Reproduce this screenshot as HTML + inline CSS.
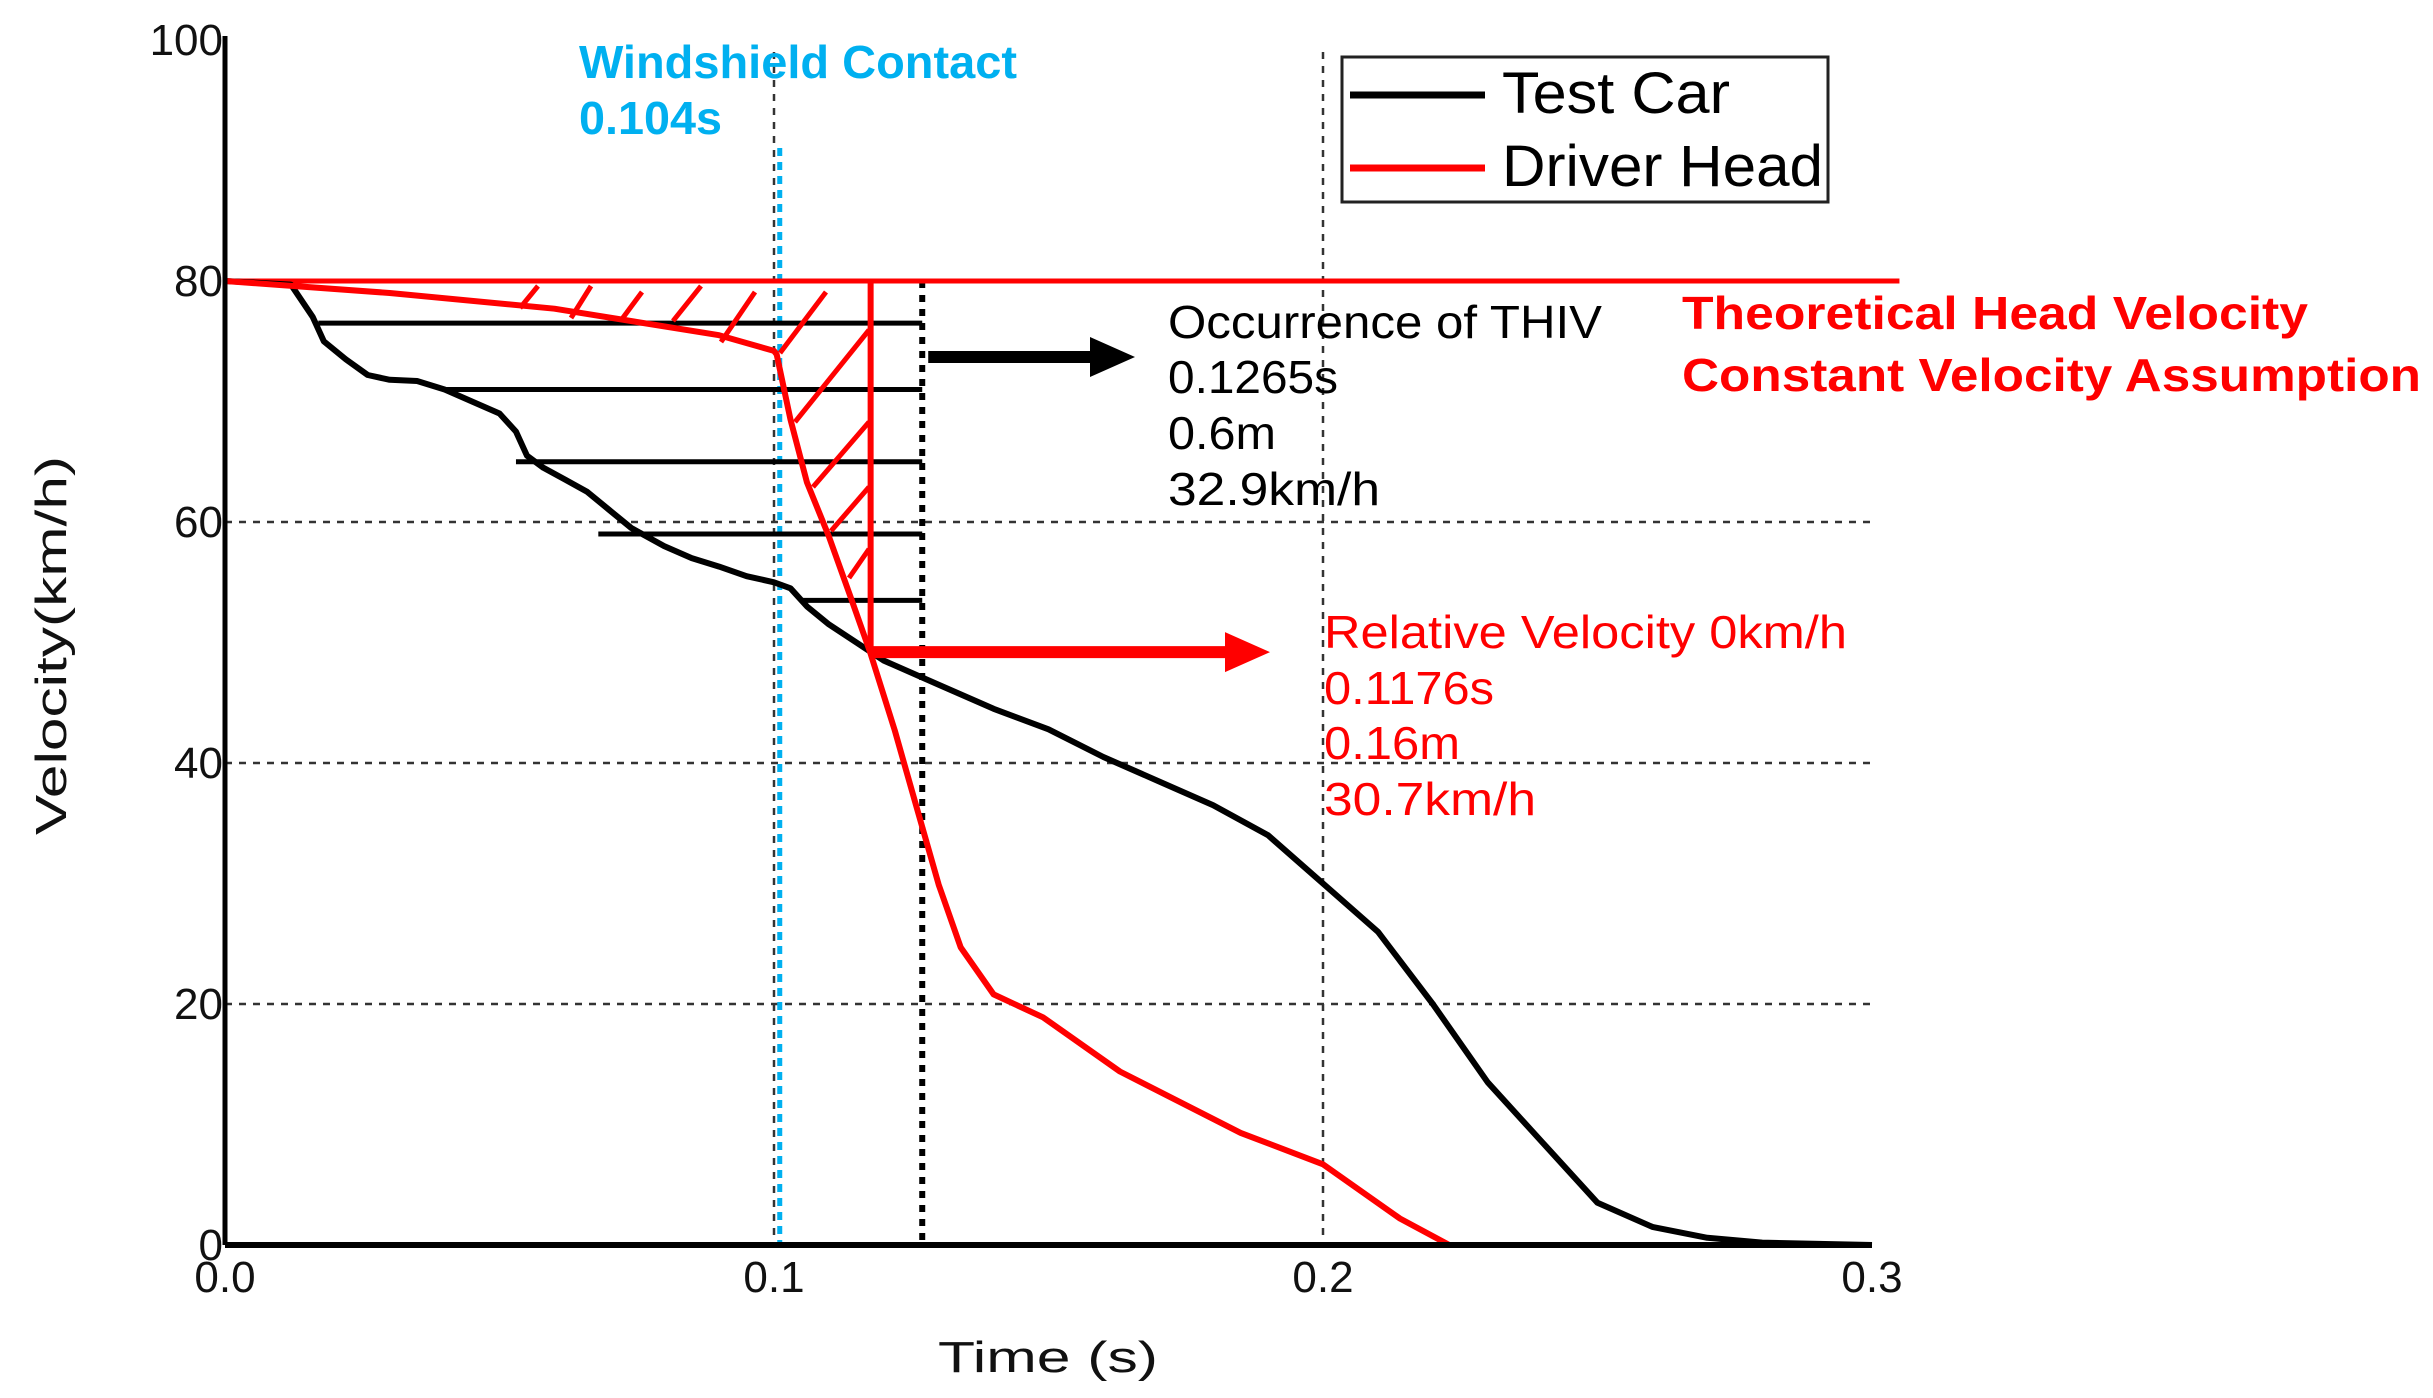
<!DOCTYPE html>
<html><head><meta charset="utf-8"><style>
html,body{margin:0;padding:0;background:#fff;}
svg{display:block;}
.tk{font-family:"Liberation Sans Narrow","Liberation Sans",sans-serif;font-size:44px;fill:#111;}
.ann{font-family:"Liberation Sans",sans-serif;font-size:46px;}
</style></head><body>
<svg id="chart" width="2433" height="1398" viewBox="0 0 2433 1398" xmlns="http://www.w3.org/2000/svg">
<g id="grid"></g>
<g id="marks"></g>
<g id="axes"></g>
<g>
<rect x="1342" y="57" width="486" height="145" fill="#fff" stroke="#222" stroke-width="3"/>
<line x1="1350" y1="95" x2="1485" y2="95" stroke="#000" stroke-width="7"/>
<text x="1502" y="113" font-family="Liberation Sans, sans-serif" font-size="58" fill="#000" textLength="228" lengthAdjust="spacingAndGlyphs">Test Car</text>
<line x1="1350" y1="168" x2="1485" y2="168" stroke="#f00" stroke-width="7"/>
<text x="1502" y="186" font-family="Liberation Sans, sans-serif" font-size="58" fill="#000" textLength="321" lengthAdjust="spacingAndGlyphs">Driver Head</text>
</g>
<g>
<text class="ann" x="579" y="78" fill="#00b0f0" font-weight="bold" textLength="438" lengthAdjust="spacingAndGlyphs">Windshield Contact</text>
<text class="ann" x="579" y="134" fill="#00b0f0" font-weight="bold" textLength="143" lengthAdjust="spacingAndGlyphs">0.104s</text>
<text class="ann" x="1168" y="338" fill="#000" textLength="434" lengthAdjust="spacingAndGlyphs">Occurrence of THIV</text>
<text class="ann" x="1168" y="393" fill="#000" textLength="170" lengthAdjust="spacingAndGlyphs">0.1265s</text>
<text class="ann" x="1168" y="449" fill="#000" textLength="108" lengthAdjust="spacingAndGlyphs">0.6m</text>
<text class="ann" x="1168" y="505" fill="#000" textLength="212" lengthAdjust="spacingAndGlyphs">32.9km/h</text>
<text class="ann" x="1682" y="329" fill="#f00" font-weight="bold" font-size="50" textLength="626" lengthAdjust="spacingAndGlyphs">Theoretical Head Velocity</text>
<text class="ann" x="1682" y="391" fill="#f00" font-weight="bold" font-size="50" textLength="739" lengthAdjust="spacingAndGlyphs">Constant Velocity Assumption</text>
<text class="ann" x="1324" y="648" fill="#f00" textLength="523" lengthAdjust="spacingAndGlyphs">Relative Velocity 0km/h</text>
<text class="ann" x="1324" y="704" fill="#f00" textLength="170" lengthAdjust="spacingAndGlyphs">0.1176s</text>
<text class="ann" x="1324" y="759" fill="#f00" textLength="136" lengthAdjust="spacingAndGlyphs">0.16m</text>
<text class="ann" x="1324" y="815" fill="#f00" textLength="212" lengthAdjust="spacingAndGlyphs">30.7km/h</text>
</g>
</svg>
<script>
const xTicks=[0,0.1,0.2,0.3];
const xTickLabels=["0.0","0.1","0.2","0.3"];
const yTicks=[0,20,40,60,80,100];
const yTickLabels=["0","20","40","60","80","100"];
const carT=[0,0.012,0.016,0.018,0.022,0.026,0.03,0.035,0.04,0.045,0.05,0.053,0.055,0.058,0.062,0.066,0.07,0.074,0.08,0.085,0.09,0.095,0.1,0.103,0.106,0.11,0.115,0.12,0.13,0.14,0.15,0.16,0.17,0.18,0.19,0.2,0.21,0.22,0.23,0.24,0.25,0.26,0.27,0.28,0.3];
const carV=[80,79.7,77,75,73.5,72.2,71.8,71.7,71,70,69,67.5,65.5,64.5,63.5,62.5,61,59.5,58,57,56.3,55.5,55,54.5,53,51.5,50,48.5,46.5,44.5,42.8,40.5,38.5,36.5,34,30,26,20,13.5,8.5,3.5,1.5,0.6,0.2,0];
const headT=[0,0.03,0.06,0.09,0.1,0.1005,0.103,0.106,0.11,0.114,0.1175,0.122,0.126,0.13,0.134,0.14,0.149,0.163,0.185,0.2,0.214,0.223];
const headV=[80,79,77.7,75.5,74.2,73.9,68.5,63.3,58.8,53.7,49.2,42.7,36.3,29.9,24.7,20.8,18.9,14.4,9.3,6.7,2.2,0];
const theoV=80, theoEndT=0.305;
const windshieldT=0.1005, relT=0.1176, relV=49.2, thivT=0.127;
const hatchV=[76.5,71,65,59,53.5];
const hatchStartT=[0.017,0.04,0.053,0.068,0.105];

const X0=225,X1=1872,Y0=1245,Y1=40;
const sx=t=>X0+(X1-X0)*t/0.3;
const sy=v=>Y0+(Y1-Y0)*v/100;
const NS="http://www.w3.org/2000/svg";
function mk(parent,tag,attrs){const e=document.createElementNS(NS,tag);for(const k in attrs)e.setAttribute(k,attrs[k]);document.getElementById(parent).appendChild(e);return e;}

[20,40,60].forEach(v=>{const l=mk('grid','line',{x1:X0,x2:sx(0.3),y1:sy(v),y2:sy(v),stroke:'#333','stroke-width':2.5,'stroke-dasharray':'7 7'});

});
[0.1,0.2].forEach(t=>{const l=mk('grid','line',{x1:sx(t),x2:sx(t),y1:sy(99),y2:Y0,stroke:'#333','stroke-width':2.5,'stroke-dasharray':'7 7'});

});

let w=mk('marks','line',{x1:sx(windshieldT)+3,x2:sx(windshieldT)+3,y1:148,y2:Y0,stroke:'#00b0f0','stroke-width':5,'stroke-dasharray':'8 6'});


let th=mk('marks','line',{x1:sx(thivT),x2:sx(thivT),y1:sy(80),y2:Y0,stroke:'#000','stroke-width':6,'stroke-dasharray':'7 7'});



hatchV.forEach((v,i)=>{const l=mk('marks','line',{x1:sx(hatchStartT[i]),x2:sx(thivT),y1:sy(v),y2:sy(v),stroke:'#000','stroke-width':5});

});

const diag=[[520,308,538,286],[571,318,591,286],[622,319,642,292],[673,321,701,286],[721,342,755,292],[780,353,826,292],[795,422,869,330],[813,487,869,422],[831,531,869,487],[849,578,869,549]];
diag.forEach(d=>{const l=mk('marks','line',{x1:d[0],y1:d[1],x2:d[2],y2:d[3],stroke:'#f00','stroke-width':5});

});

let tl=mk('marks','line',{x1:X0,x2:sx(theoEndT),y1:sy(theoV),y2:sy(theoV),stroke:'#f00','stroke-width':5});


let rv=mk('marks','line',{x1:sx(relT),x2:sx(relT),y1:sy(theoV),y2:sy(relV),stroke:'#f00','stroke-width':6});



function path(T,V){return T.map((t,i)=>(i?'L':'M')+sx(t).toFixed(1)+' '+sy(V[i]).toFixed(1)).join(' ');}
let cp=mk('marks','path',{d:path(carT,carV),fill:'none',stroke:'#000','stroke-width':6,'stroke-linejoin':'round'});


let hp=mk('marks','path',{d:path(headT,headV),fill:'none',stroke:'#f00','stroke-width':6,'stroke-linejoin':'round'});



let a1=mk('marks','line',{x1:sx(thivT)+6,x2:1095,y1:357,y2:357,stroke:'#000','stroke-width':12});


let a1h=mk('marks','polygon',{points:'1090,337 1135,357 1090,377',fill:'#000'});


let a2=mk('marks','line',{x1:sx(relT),x2:1230,y1:sy(relV),y2:sy(relV),stroke:'#f00','stroke-width':12});


let a2h=mk('marks','polygon',{points:`1225,${sy(relV)-20} 1270,${sy(relV)} 1225,${sy(relV)+20}`,fill:'#f00'});



let ya=mk('axes','line',{x1:X0,x2:X0,y1:Y1-4,y2:Y0,stroke:'#000','stroke-width':5});


let xa=mk('axes','line',{x1:X0,x2:X1,y1:Y0,y2:Y0,stroke:'#000','stroke-width':6});


yTicks.forEach((v,i)=>{const t=mk('axes','text',{x:X0-2,y:sy(v)+15,'text-anchor':'end',class:'tk'});t.textContent=yTickLabels[i];

});
xTicks.forEach((v,i)=>{const t=mk('axes','text',{x:sx(v),y:1292,'text-anchor':'middle',class:'tk'});t.textContent=xTickLabels[i];

});
let xt=mk('axes','text',{x:938,y:1372,class:'tk','font-size':64,textLength:220,lengthAdjust:'spacingAndGlyphs'});xt.textContent='Time (s)';


let yt=mk('axes','text',{x:-190,y:0,class:'tk','font-size':62,textLength:379,lengthAdjust:'spacingAndGlyphs',transform:'translate(66,645) rotate(-90)'});yt.textContent='Velocity(km/h)';


</script>
</body></html>
